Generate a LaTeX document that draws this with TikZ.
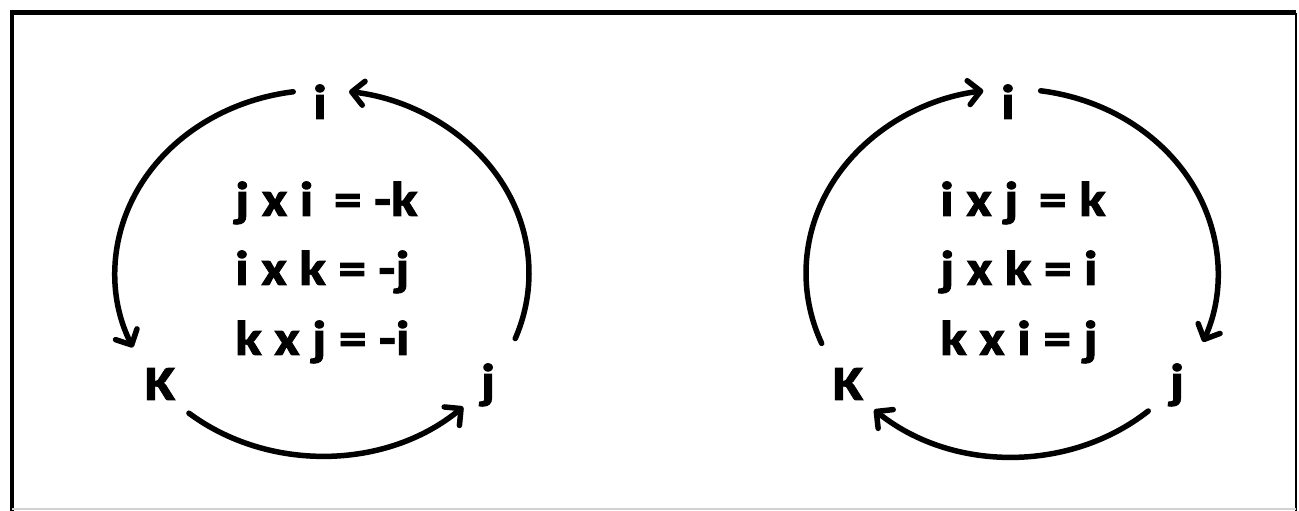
\documentclass[tikz,border=0pt]{standalone}
\usepackage{fontspec}
\setmainfont{Carlito}
\newfontfamily\eqfont{Carlito}[FakeStretch=1.13,FakeBold=2]
\usetikzlibrary{arrows.meta}
\begin{document}
\begin{tikzpicture}[x=1pt,y=1pt,
  lbl/.style={font=\eqfont\fontsize{49}{58}\selectfont\bfseries, inner sep=0pt, anchor=base},
  eq/.style={font=\eqfont\fontsize{49}{58}\selectfont\bfseries, inner sep=0pt, anchor=base west},
  cyc/.style={line width=5.5pt, line cap=round},
  tip/.style={-{Straight Barb[length=12pt,width=24pt,line width=5.5pt,round]}},
  frameline/.style={line width=5pt}]
\useasboundingbox (0,0) rectangle (1299,511);
\fill[white] (0,0) rectangle (1299,511);
% frame
\coordinate (bl) at (12,0);
\coordinate (tl) at (12,498);
\coordinate (tr) at (1296,498);
\coordinate (br) at (1296,0);
\draw[frameline,line width=4pt] (bl) -- (tl);
\draw[frameline] (10,498) -- (tr);
\draw[line width=2.5pt] (tr) -- (br);
\draw[gray!35,line width=2pt] (12,2) -- (1296,2);
% left diagram
\coordinate (c1) at (322,238);
\node[lbl] (i1) at (320,392) {i};
\node[lbl] (k1) at (160,111) {K};
\node[lbl] (j1) at (488,113) {j};
\node[eq] (e11) at (235,295) {j x i\, = -k};
\node[eq] (e12) at (235,226) {i x k = -j};
\node[eq] (e13) at (235,156) {k x j = -i};
\draw[cyc,tip] ([shift={(98:207pt and 183pt)}]c1) arc[start angle=98,end angle=204,x radius=207pt,y radius=183pt];
\draw[cyc,tip] ([shift={(230:207pt and 183pt)}]c1) arc[start angle=230,end angle=313,x radius=207pt,y radius=183pt];
\draw[cyc,tip] ([shift={(-21:207pt and 183pt)}]c1) arc[start angle=-21,end angle=82.5,x radius=207pt,y radius=183pt];
% right diagram
\coordinate (c2) at (1012,238);
\node[lbl] (i2) at (1008,392) {i};
\node[lbl] (k2) at (848,111) {K};
\node[lbl] (j2) at (1177,113) {j};
\node[eq] (e21) at (940,295) {i x j\, = k};
\node[eq] (e22) at (940,226) {j x k = i};
\node[eq] (e23) at (940,156) {k x i = j};
\draw[cyc,tip] ([shift={(202.5:206pt and 184pt)}]c2) arc[start angle=202.5,end angle=98,x radius=206pt,y radius=184pt];
\draw[cyc,tip] ([shift={(82:206pt and 184pt)}]c2) arc[start angle=82,end angle=-22,x radius=206pt,y radius=184pt];
\draw[cyc,tip] ([shift={(-48.6:206pt and 184pt)}]c2) arc[start angle=-48.6,end angle=-132,x radius=206pt,y radius=184pt];
\end{tikzpicture}
\end{document}
